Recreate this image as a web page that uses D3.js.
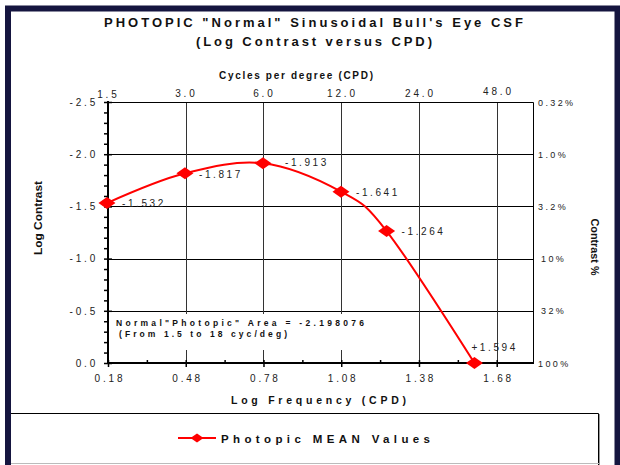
<!DOCTYPE html>
<html>
<head>
<meta charset="utf-8">
<script src="https://cdn.jsdelivr.net/npm/d3@7"></script>
<style>
  body { margin: 0; background: #fff; }
  svg { display: block; }
  text { font-family: "Liberation Sans", Arial, Helvetica, sans-serif; }
</style>
</head>
<body>
<svg id="chart" width="620" height="465"></svg>
<script>
// Mean photopic contrast sensitivity, log frequency (CPD) vs log contrast
const logFreq = [0.176, 0.477, 0.778, 1.079, 1.255, 1.594];
const logContrast = [-1.532, -1.817, -1.913, -1.641, -1.264, 0.0];
const pointLabels = ["-1.532", "-1.817", "-1.913", "-1.641", "-1.264", "+1.594"];

// Axis tick values and labels
const logFreqTicks = [0.18, 0.48, 0.78, 1.08, 1.38, 1.68];
const cpdTicks = [1.5, 3, 6, 12, 24, 48];
const logContrastTicks = [-2.5, -2.0, -1.5, -1.0, -0.5, 0.0];
const contrastPctLabels = ["0.32%", "1.0%", "3.2%", "10%", "32%", "100%"];

// Label placement relative to each point
const labelOffsets = [[15, 4], [14, 5], [22, 3], [15, 4], [15, 4], [-3, -12]];

// Number formats with a plain hyphen for negatives
const locale = d3.formatLocale({ decimal: ".", thousands: ",", grouping: [3], currency: ["", ""], minus: "-" });
const fmt1 = locale.format(".1f");
const fmt2 = locale.format(".2f");

const svg = d3.select("#chart");
const W = 620, H = 465;

// Frame
svg.append("rect").attr("x", 0).attr("y", 0).attr("width", W).attr("height", H).attr("fill", "#fff");
svg.append("path")
  .attr("d", `M8,${H} V8.5 H617.5 V${H}`)
  .attr("fill", "none").attr("stroke", "#15153f").attr("stroke-width", 6);

const x = d3.scaleLinear().domain([0.18, 1.82]).range([108, 533]);
const y = d3.scaleLinear().domain([-2.5, 0]).range([102, 363]);
const [x0, x1] = x.range();
const [y0, y1] = y.range();

const LS = 2.8; // letter spacing for numeric labels

// Titles
svg.append("text").attr("x", 313.5).attr("y", 27).attr("text-anchor", "middle")
  .attr("font-size", 13).attr("font-weight", "bold").attr("fill", "#111")
  .attr("textLength", 419).attr("lengthAdjust", "spacing")
  .text('PHOTOPIC "Normal" Sinusoidal Bull\'s Eye CSF');
svg.append("text").attr("x", 314).attr("y", 46).attr("text-anchor", "middle")
  .attr("font-size", 13).attr("font-weight", "bold").attr("fill", "#111")
  .attr("textLength", 236).attr("lengthAdjust", "spacing")
  .text("(Log Contrast versus CPD)");
svg.append("text").attr("x", 296).attr("y", 79).attr("text-anchor", "middle")
  .attr("font-size", 10).attr("font-weight", "bold").attr("fill", "#111")
  .attr("textLength", 154).attr("lengthAdjust", "spacing")
  .text("Cycles per degree (CPD)");
svg.append("text").attr("x", 318.5).attr("y", 404).attr("text-anchor", "middle")
  .attr("font-size", 10.5).attr("font-weight", "bold").attr("fill", "#111")
  .attr("textLength", 175).attr("lengthAdjust", "spacing")
  .text("Log Frequency (CPD)");
svg.append("text").attr("transform", "translate(41.5,218) rotate(-90)").attr("text-anchor", "middle")
  .attr("font-size", 11).attr("font-weight", "bold").attr("fill", "#111")
  .attr("textLength", 74).attr("lengthAdjust", "spacingAndGlyphs")
  .text("Log Contrast");
svg.append("text").attr("transform", "translate(591,247) rotate(90)").attr("text-anchor", "middle")
  .attr("font-size", 11).attr("font-weight", "bold").attr("fill", "#111")
  .attr("textLength", 57).attr("lengthAdjust", "spacingAndGlyphs")
  .text("Contrast %");

// Grid lines
const grid = svg.append("g");
grid.selectAll("line.h").data(logContrastTicks.filter(v => v > -2.5 && v < 0)).join("line")
  .attr("x1", x0).attr("x2", x1)
  .attr("y1", d => Math.round(y(d)) + 0.5).attr("y2", d => Math.round(y(d)) + 0.5)
  .attr("stroke", "#000").attr("stroke-width", 1);
grid.selectAll("line.v").data(logFreqTicks.slice(1)).join("line")
  .attr("x1", d => Math.round(x(d)) + 0.5).attr("x2", d => Math.round(x(d)) + 0.5)
  .attr("y1", y0).attr("y2", y1)
  .attr("stroke", "#333").attr("stroke-width", 1);
// top and right border of plot area
svg.append("path")
  .attr("d", `M${x0},${y0 + 0.5} H${x1 + 0.5} V${y1}`)
  .attr("fill", "none").attr("stroke", "#000").attr("stroke-width", 1);

// Area annotation on a white panel
svg.append("rect").attr("x", 111).attr("y", 314).attr("width", 262).attr("height", 36).attr("fill", "#fff");
svg.append("text").attr("x", 116).attr("y", 325.5)
  .attr("font-size", 8.5).attr("font-weight", "bold").attr("fill", "#111")
  .attr("textLength", 248).attr("lengthAdjust", "spacing")
  .text('Normal"Photopic" Area = -2.198076');
svg.append("text").attr("x", 119).attr("y", 337)
  .attr("font-size", 8.5).attr("font-weight", "bold").attr("fill", "#111")
  .attr("textLength", 168).attr("lengthAdjust", "spacing")
  .text("(From 1.5 to 18 cyc/deg)");

// Left axis (log contrast)
const minorY = d3.range(-25, 1).map(v => v / 10);
const leftAxis = d3.axisLeft(y).tickValues(minorY).tickSize(4).tickFormat("");
const gl = svg.append("g").attr("transform", `translate(${x0},0)`).call(leftAxis);
gl.select(".domain").remove();
gl.selectAll(".tick line").attr("stroke", "#000").attr("stroke-width", 1.5);
svg.append("line").attr("x1", x0).attr("x2", x0).attr("y1", y0 - 1).attr("y2", y1 + 1)
  .attr("stroke", "#000").attr("stroke-width", 2);
const majorLeft = d3.axisLeft(y).tickValues(logContrastTicks).tickSize(4).tickPadding(8)
  .tickFormat(fmt1);
const gml = svg.append("g").attr("transform", `translate(${x0 + 4},0)`).call(majorLeft);
gml.select(".domain").remove();
gml.selectAll(".tick line").attr("stroke", "#000").attr("stroke-width", 1.5);
gml.selectAll(".tick text").attr("font-size", 10).attr("fill", "#222")
  .attr("font-family", '"Liberation Sans", Arial, sans-serif')
  .style("letter-spacing", LS + "px").attr("dx", -2);

// Bottom axis (log frequency)
const minorX = d3.range(0, 11).map(i => 0.18 + 0.15 * i).filter(v => v < 1.82);
const bottomMinor = d3.axisTop(x).tickValues(minorX).tickSize(3).tickFormat("");
const gb = svg.append("g").attr("transform", `translate(0,${y1})`).call(bottomMinor);
gb.select(".domain").remove();
gb.selectAll(".tick line").attr("stroke", "#000").attr("stroke-width", 1.5);
const bottomMajor = d3.axisBottom(x).tickValues(logFreqTicks).tickSize(4).tickPadding(8)
  .tickFormat(fmt2);
const gbm = svg.append("g").attr("transform", `translate(0,${y1})`).call(bottomMajor);
gbm.select(".domain").remove();
gbm.selectAll(".tick line").attr("stroke", "#000").attr("stroke-width", 1.5);
gbm.selectAll(".tick text").attr("font-size", 10).attr("fill", "#222")
  .attr("font-family", '"Liberation Sans", Arial, sans-serif')
  .style("letter-spacing", LS + "px").attr("dx", LS / 2);
svg.append("line").attr("x1", x0 - 1).attr("x2", x1 + 1).attr("y1", y1).attr("y2", y1)
  .attr("stroke", "#000").attr("stroke-width", 2);

// Top axis labels (cycles per degree)
svg.append("g").selectAll("text").data(cpdTicks).join("text")
  .attr("x", d => x(Math.log10(d)) + LS / 2)
  .attr("y", (d, i) => i === 0 ? 98 : (i === cpdTicks.length - 1 ? 95 : 96.5))
  .attr("text-anchor", "middle").attr("font-size", 10).attr("fill", "#222")
  .style("letter-spacing", LS + "px")
  .text(d => fmt1(d));

// Right axis labels (contrast percentage)
svg.append("g").selectAll("text").data(logContrastTicks).join("text")
  .attr("x", (d, i) => contrastPctLabels[i].length === 3 ? 541 : 538)
  .attr("y", d => y(d) + 3.5)
  .attr("font-size", 9).attr("fill", "#222")
  .style("letter-spacing", "2.4px")
  .text((d, i) => contrastPctLabels[i]);

// Data series
const pts = logFreq.map((f, i) => [f, logContrast[i]]);
const line = d3.line().x(d => x(d[0])).y(d => y(d[1])).curve(d3.curveCardinal.tension(0));
svg.append("path").datum(pts).attr("d", line)
  .attr("fill", "none").attr("stroke", "#ff0000").attr("stroke-width", 2);

const diamond = (hw, hh) => `M0,${-hh}L${hw},0L0,${hh}L${-hw},0Z`;
svg.append("g").selectAll("path").data(pts).join("path")
  .attr("transform", d => `translate(${x(d[0])},${y(d[1])})`)
  .attr("d", diamond(8.5, 6)).attr("fill", "#ff0000");

svg.append("g").selectAll("text").data(pts).join("text")
  .attr("x", (d, i) => x(d[0]) + labelOffsets[i][0])
  .attr("y", (d, i) => y(d[1]) + labelOffsets[i][1])
  .attr("font-size", 10).attr("fill", "#222")
  .style("letter-spacing", "2.6px")
  .text((d, i) => pointLabels[i]);

// Legend
svg.append("path").attr("d", "M11,413.5 H598.5 V465")
  .attr("fill", "none").attr("stroke", "#000").attr("stroke-width", 1);
svg.append("line").attr("x1", 599.5).attr("x2", 599.5).attr("y1", 414).attr("y2", 465)
  .attr("stroke", "#999").attr("stroke-width", 1);
svg.append("line").attr("x1", 11).attr("x2", 599).attr("y1", 463.5).attr("y2", 463.5)
  .attr("stroke", "#bbb").attr("stroke-width", 1);
svg.append("line").attr("x1", 178).attr("x2", 216).attr("y1", 438).attr("y2", 438)
  .attr("stroke", "#ff0000").attr("stroke-width", 2);
svg.append("path").attr("transform", "translate(197,438)").attr("d", diamond(6.5, 4.5)).attr("fill", "#ff0000");
svg.append("text").attr("x", 221).attr("y", 442.5)
  .attr("font-size", 11.5).attr("font-weight", "bold").attr("fill", "#111")
  .attr("textLength", 209).attr("lengthAdjust", "spacing")
  .text("Photopic MEAN Values");
</script>
</body>
</html>
